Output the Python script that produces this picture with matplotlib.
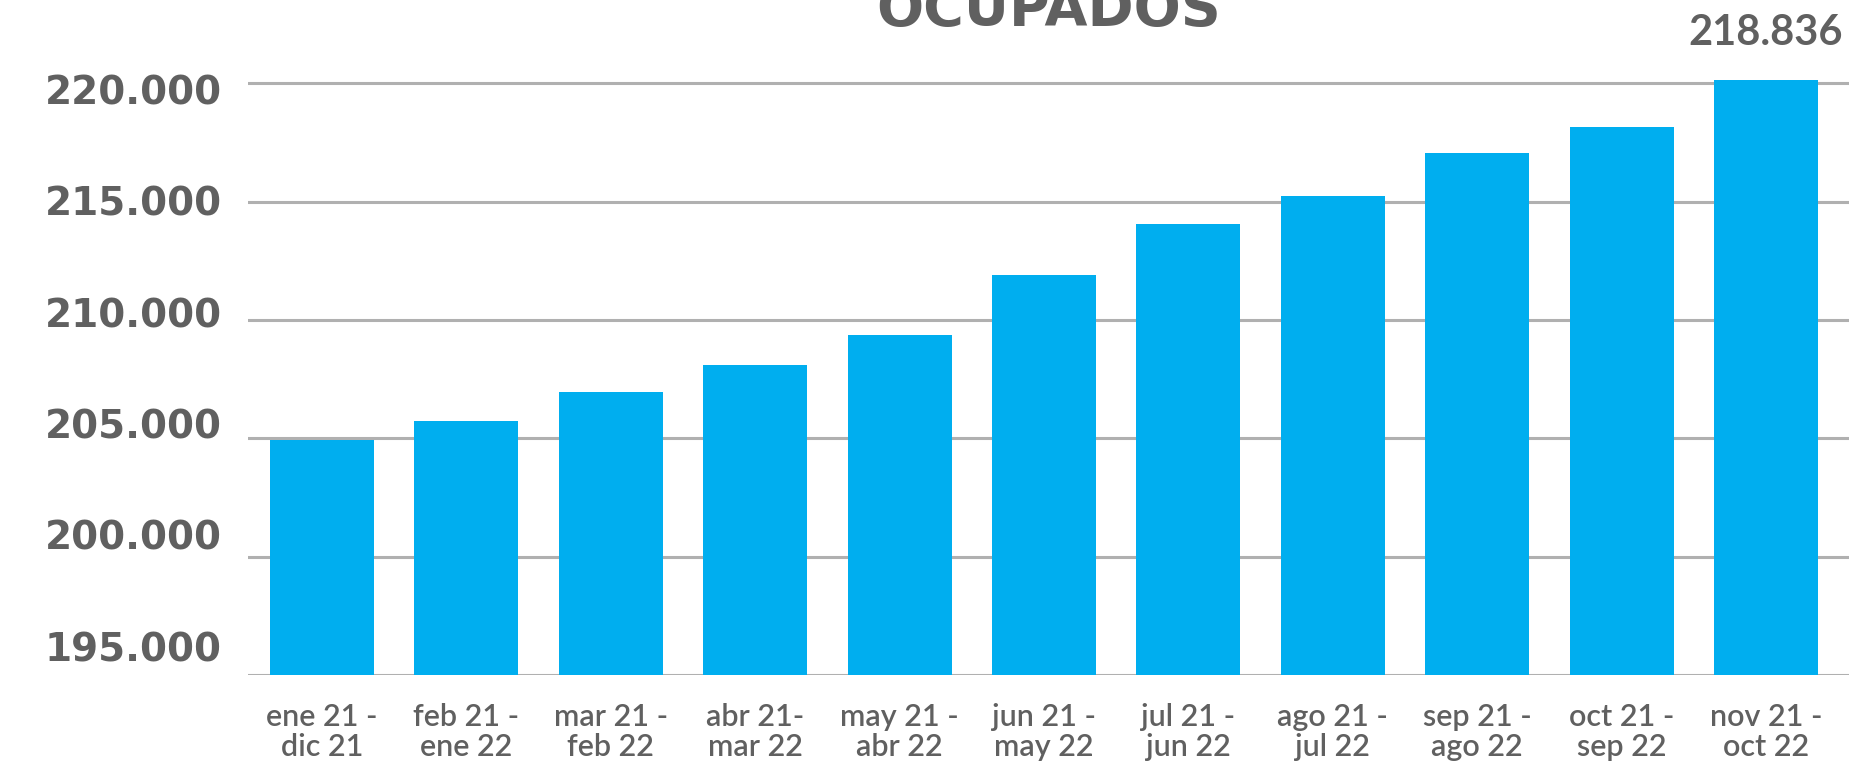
import matplotlib
matplotlib.use("Agg")
import matplotlib.pyplot as plt
import matplotlib.transforms as mtransforms

# data
periodos = ["ene 21 -\ndic 21", "feb 21 -\nene 22", "mar 21 -\nfeb 22", "abr 21-\nmar 22",
            "may 21 -\nabr 22", "jun 21 -\nmay 22", "jul 21 -\njun 22", "ago 21 -\njul 22",
            "sep 21 -\nago 22", "oct 21 -\nsep 22", "nov 21 -\noct 22"]
ocupados = [204930, 205730, 206980, 208120, 209370, 211910, 214050, 215250, 217040, 218140, 220140]
ultimo_label = "218.836"
y_ticks = [195000, 200000, 205000, 210000, 215000, 220000]
y_tick_labels = ["195.000", "200.000", "205.000", "210.000", "215.000", "220.000"]

GRIS = "#606060"
AZUL = "#00aeef"

fig = plt.figure(figsize=(18.5, 7.72), dpi=100)
ax = fig.add_axes([248 / 1850, 1 - 675.3 / 772, 1601 / 1850, (675.3 - 59.6) / 772])

x = list(range(len(periodos)))
ax.bar(x, [v - 195000 for v in ocupados], bottom=195000, width=0.72, color=AZUL, zorder=3)

ax.set_ylim(195000, 221000)
ax.set_xlim(-0.512, 10.575)
ax.set_yticks(y_ticks)
ax.set_yticklabels([])
ax.grid(axis="y", color="#b0b0b0", linewidth=2.2, zorder=0)
ax.tick_params(axis="both", length=0)
for s in ax.spines.values():
    s.set_visible(False)

ax.set_xticks(x)
ax.set_xticklabels(periodos, fontsize=22, family="Lato", fontweight="semibold",
                   color=GRIS, linespacing=1.1)
ax.tick_params(axis="x", pad=20)

# y labels: evenly spaced a bit tighter than the gridlines, as in the original
trans = mtransforms.blended_transform_factory(fig.transFigure, ax.transData)
for v, lab in zip(y_ticks, y_tick_labels):
    ypos = 196060 + (v - 195000) * 0.9408
    ax.text(133 / 1850, ypos, lab, transform=trans, ha="center", va="center",
            fontsize=28, fontweight="bold", family="DejaVu Sans", color=GRIS)

# label over last bar
ax.annotate(ultimo_label, (x[-1], ocupados[-1]), xytext=(0, 35), textcoords="offset pixels",
            ha="center", va="baseline", fontsize=30, fontweight="bold", family="Lato",
            color=GRIS, annotation_clip=False)

# title, cut off at the top like the original
fig.text((248 + 1849) / 2 / 1850, 1 - 25 / 772, "OCUPADOS", ha="center", va="baseline",
         fontsize=40, fontweight="bold", family="DejaVu Sans", color=GRIS)

fig.savefig("out.png", dpi=100)
